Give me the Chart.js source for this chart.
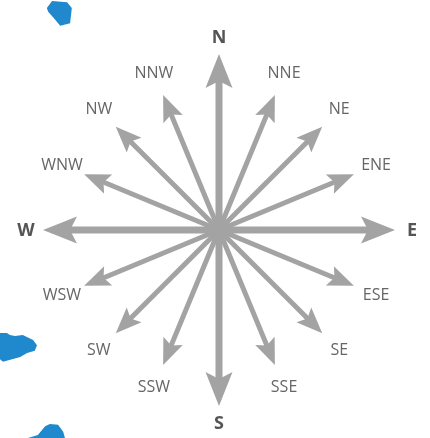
<!DOCTYPE html>
<html>
<head>
<meta charset="utf-8">
<script src="https://cdn.jsdelivr.net/npm/chart.js@4/dist/chart.umd.min.js"></script>
<style>
  html, body { margin: 0; padding: 0; background: #ffffff; }
  #wrap { width: 430px; height: 438px; }
</style>
</head>
<body>
<div id="wrap"><canvas id="c" width="430" height="438"></canvas></div>
<script>
// ---- data ----
const directions = ['N','NNE','NE','ENE','E','ESE','SE','SSE','S','SSW','SW','WSW','W','WNW','NW','NNW'];
const arrowLengths = [176,146,146,146,176,146,146,146,176,146,146,146,176,146,146,146];
const cardinalDirections = ['N','E','S','W'];

// decorative blue shapes seen at the picture's left edge (fractions of canvas size)
const blobShapes = [
  [[0.109,0.018],[0.121,0.002],[0.156,0.005],[0.167,0.018],[0.163,0.053],[0.140,0.059],[0.123,0.039],[0.112,0.027]],
  [[0,0.760],[0.016,0.760],[0.023,0.765],[0.035,0.767],[0.053,0.765],[0.077,0.776],[0.086,0.788],[0.081,0.801],[0.063,0.806],[0.047,0.815],[0.007,0.826],[0,0.820]],
  [[0.065,1.0],[0.088,0.993],[0.105,0.973],[0.116,0.968],[0.135,0.970],[0.147,0.986],[0.151,1.0]]
];

const arrowColor = '#a3a3a3';

const blobPlugin = {
  id: 'blobs',
  beforeDraw(chart) {
    const ctx = chart.ctx, W = chart.width, H = chart.height;
    ctx.save();
    ctx.fillStyle = '#2088cc';
    blobShapes.forEach(poly => {
      ctx.beginPath();
      poly.forEach(([fx, fy], k) => {
        const x = fx * W, y = fy * H;
        k ? ctx.lineTo(x, y) : ctx.moveTo(x, y);
      });
      ctx.closePath();
      ctx.fill();
    });
    ctx.restore();
  }
};

const arrowPlugin = {
  id: 'compassArrows',
  afterDatasetsDraw(chart) {
    const scale = chart.scales.r;
    const ctx = chart.ctx;
    const cx = scale.xCenter, cy = scale.yCenter;
    const values = chart.data.datasets[0].data;
    ctx.save();
    values.forEach((v, i) => {
      const isCard = cardinalDirections.includes(chart.data.labels[i]);
      const tip = scale.getPointPositionForValue(i, v);
      const dx = tip.x - cx, dy = tip.y - cy;
      const len = Math.hypot(dx, dy);
      const ux = dx / len, uy = dy / len;
      const px = -uy, py = ux;
      const shaftW = isCard ? 7 : 5;
      const headLen = isCard ? 34 : 26;
      const headHalf = isCard ? 13.5 : 10.5;
      const notch = isCard ? 7 : 5;
      const bx = tip.x - ux * (headLen - notch - 1), by = tip.y - uy * (headLen - notch - 1);
      ctx.strokeStyle = arrowColor;
      ctx.lineWidth = shaftW;
      ctx.lineCap = 'butt';
      ctx.beginPath();
      ctx.moveTo(cx, cy);
      ctx.lineTo(bx, by);
      ctx.stroke();
      const backX = tip.x - ux * headLen, backY = tip.y - uy * headLen;
      const nX = tip.x - ux * (headLen - notch), nY = tip.y - uy * (headLen - notch);
      ctx.fillStyle = arrowColor;
      ctx.beginPath();
      ctx.moveTo(tip.x, tip.y);
      ctx.lineTo(backX + px * headHalf, backY + py * headHalf);
      ctx.lineTo(nX, nY);
      ctx.lineTo(backX - px * headHalf, backY - py * headHalf);
      ctx.closePath();
      ctx.fill();
    });
    ctx.beginPath();
    ctx.arc(cx, cy, 6, 0, Math.PI * 2);
    ctx.fill();
    ctx.textAlign = 'center';
    ctx.textBaseline = 'middle';
    values.forEach((v, i) => {
      const lab = chart.data.labels[i];
      const isCard = cardinalDirections.includes(lab);
      const pos = scale.getPointPositionForValue(i, v + (isCard ? 17 : 24));
      ctx.font = isCard ? 'bold 18px "Open Sans", sans-serif' : '16px "Open Sans", sans-serif';
      ctx.fillStyle = isCard ? '#555555' : '#666666';
      ctx.fillText(lab, pos.x, pos.y + (isCard ? 1 : 0));
    });
    ctx.restore();
  }
};

new Chart(document.getElementById('c'), {
  type: 'radar',
  data: {
    labels: directions,
    datasets: [{
      data: arrowLengths,
      borderWidth: 0,
      backgroundColor: 'rgba(0,0,0,0)',
      borderColor: 'rgba(0,0,0,0)',
      pointRadius: 0
    }]
  },
  options: {
    responsive: false,
    animation: false,
    layout: { padding: { left: 8, top: 22, right: 0, bottom: 0 } },
    plugins: { legend: { display: false }, tooltip: { enabled: false } },
    scales: {
      r: {
        min: 0,
        max: 208,
        grid: { display: false },
        angleLines: { display: false },
        ticks: { display: false },
        pointLabels: { display: false }
      }
    }
  },
  plugins: [blobPlugin, arrowPlugin]
});
</script>
</body>
</html>
